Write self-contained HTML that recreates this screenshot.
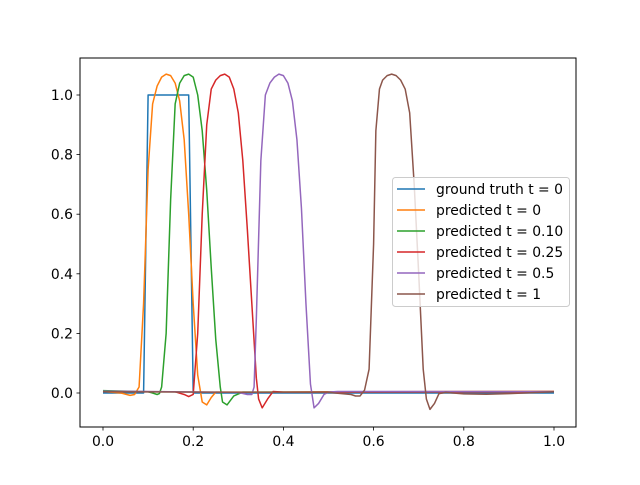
<!DOCTYPE html>
<html><head><meta charset="utf-8"><style>
html,body{margin:0;padding:0;background:#fff}
svg text{font-family:"DejaVu Sans","Liberation Sans",sans-serif;font-size:13.9px;fill:#000}
</style></head><body>
<svg id="chart" width="640" height="480" xmlns="http://www.w3.org/2000/svg">
<rect width="640" height="480" fill="#fff"/>
<g id="series"></g>
<rect x="80" y="58" width="496" height="369" fill="none" stroke="#000" stroke-width="1"/>
<g id="xticks"></g>
<g id="yticks"></g>
<g id="legend"></g>
</svg>
<script>
const seriesNames = ["ground truth t = 0","predicted t = 0","predicted t = 0.10","predicted t = 0.25","predicted t = 0.5","predicted t = 1"];
const seriesColors = ["#1f77b4","#ff7f0e","#2ca02c","#d62728","#9467bd","#8c564b"];
const truthData = [[0,0],[0.09,0],[0.1,1],[0.19,1],[0.2,0],[1,0]];
const pred0Data = [[0,0.005],[0.04,0],[0.06,-0.008],[0.07,-0.005],[0.08,0.02],[0.09,0.3],[0.1,0.75],[0.11,0.97],[0.12,1.03],[0.13,1.06],[0.14,1.07],[0.15,1.065],[0.16,1.04],[0.17,0.98],[0.18,0.85],[0.19,0.6],[0.2,0.3],[0.21,0.06],[0.22,-0.03],[0.23,-0.04],[0.24,-0.015],[0.25,0.003],[0.4,0.003],[1,0.006]];
const pred010Data = [[0,0.008],[0.1,0.004],[0.11,0],[0.12,-0.005],[0.125,-0.002],[0.13,0.02],[0.14,0.2],[0.15,0.65],[0.16,0.97],[0.17,1.04],[0.18,1.065],[0.19,1.07],[0.2,1.06],[0.21,1.0],[0.22,0.88],[0.23,0.68],[0.24,0.42],[0.25,0.18],[0.26,0.02],[0.265,-0.03],[0.275,-0.04],[0.29,-0.01],[0.31,0.003],[1,0.004]];
const pred025Data = [[0,0.005],[0.16,0.004],[0.18,-0.005],[0.19,-0.012],[0.2,-0.005],[0.21,0.2],[0.22,0.6],[0.23,0.9],[0.24,1.02],[0.25,1.05],[0.26,1.065],[0.27,1.07],[0.28,1.06],[0.29,1.02],[0.3,0.94],[0.31,0.78],[0.32,0.55],[0.33,0.3],[0.34,0.05],[0.345,-0.02],[0.353,-0.05],[0.365,-0.02],[0.377,0.005],[0.4,0.003],[1,0.004]];
const pred05Data = [[0,0.006],[0.3,0.002],[0.32,-0.005],[0.33,-0.005],[0.335,0.02],[0.34,0.25],[0.35,0.78],[0.36,1.0],[0.37,1.04],[0.38,1.06],[0.39,1.07],[0.4,1.065],[0.41,1.04],[0.42,0.98],[0.43,0.85],[0.44,0.62],[0.45,0.3],[0.46,0.03],[0.468,-0.05],[0.478,-0.035],[0.49,-0.005],[0.5,0.003],[0.52,0.005],[1,0.005]];
const pred1Data = [[0,0.004],[0.5,0.002],[0.55,-0.005],[0.56,-0.01],[0.57,-0.01],[0.58,0.01],[0.59,0.08],[0.6,0.5],[0.605,0.88],[0.613,1.02],[0.62,1.05],[0.63,1.065],[0.64,1.07],[0.65,1.065],[0.66,1.05],[0.67,1.02],[0.68,0.94],[0.69,0.7],[0.7,0.4],[0.71,0.08],[0.717,-0.02],[0.725,-0.055],[0.735,-0.035],[0.745,-0.002],[0.76,0.002],[0.8,-0.003],[0.85,-0.004],[0.9,-0.002],[1,0.004]];
const allData = [truthData,pred0Data,pred010Data,pred025Data,pred05Data,pred1Data];
const xTickLabels = ["0.0","0.2","0.4","0.6","0.8","1.0"];
const xTickValues = [0,0.2,0.4,0.6,0.8,1.0];
const yTickLabels = ["0.0","0.2","0.4","0.6","0.8","1.0"];
const yTickValues = [0,0.2,0.4,0.6,0.8,1.0];

const NS="http://www.w3.org/2000/svg";
function xs(v){return 103+451*v;}
function ys(v){return 393-298*v;}
function mk(tag,attrs,parent){const e=document.createElementNS(NS,tag);for(const k in attrs)e.setAttribute(k,attrs[k]);parent.appendChild(e);return e;}

const sg=document.getElementById('series');
allData.forEach((d,i)=>{
  const p=mk('polyline',{points:d.map(q=>xs(q[0]).toFixed(2)+','+ys(q[1]).toFixed(2)).join(' '),fill:'none',stroke:seriesColors[i],'stroke-width':1.5,'stroke-linejoin':'round'},sg);
  
  
});
const xg=document.getElementById('xticks');
xTickValues.forEach((v,i)=>{
  const l=mk('line',{x1:xs(v),x2:xs(v),y1:427,y2:430.5,stroke:'#000','stroke-width':0.8},xg);
  
  
  const t=mk('text',{x:xs(v),y:446,'text-anchor':'middle'},xg);
  t.textContent=xTickLabels[i];
  
  
});
const yg=document.getElementById('yticks');
yTickValues.forEach((v,i)=>{
  const l=mk('line',{x1:76.5,x2:80,y1:ys(v),y2:ys(v),stroke:'#000','stroke-width':0.8},yg);
  
  
  const t=mk('text',{x:73,y:ys(v)+5,'text-anchor':'end'},yg);
  t.textContent=yTickLabels[i];
  
  
});
const lg=document.getElementById('legend');
const box=mk('rect',{x:392.5,y:177.5,width:177,height:129,rx:3,fill:'#fff','fill-opacity':0.8,stroke:'#ccc'},lg);


seriesNames.forEach((n,i)=>{
  const y=189+21*i;
  const l=mk('line',{x1:397,x2:425,y1:y,y2:y,stroke:seriesColors[i],'stroke-width':1.5},lg);
  
  
  const t=mk('text',{x:436,y:y+5},lg);
  t.textContent=n;
  
  
});
</script>
</body></html>
